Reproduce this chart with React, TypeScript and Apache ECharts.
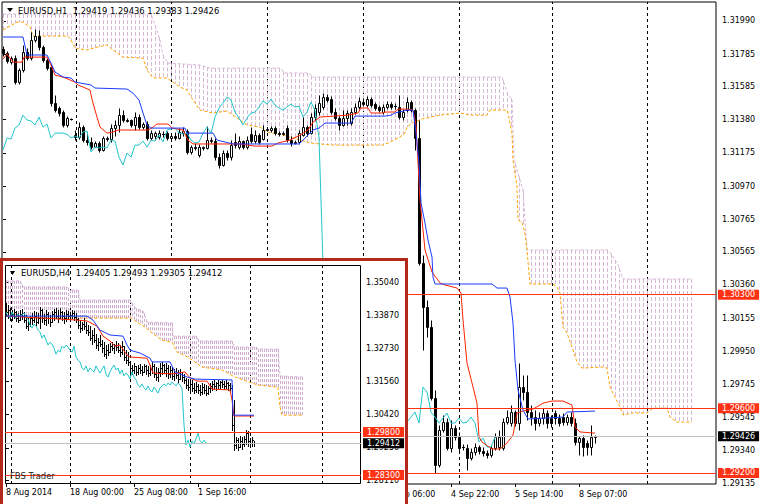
import React, { useEffect, useRef } from 'react';
import * as echarts from 'echarts';

// ---------------- EURUSD H1 (main chart) ----------------
const h1Open = [
  1.31816, 1.31791, 1.31735, 1.31760, 1.31612, 1.31686, 1.31797, 1.31760, 1.31871, 1.31896,
  1.31828, 1.31748, 1.31705, 1.31482, 1.31452, 1.31427, 1.31347, 1.31384, 1.31285, 1.31273,
  1.31334, 1.31254, 1.31242, 1.31211, 1.31236, 1.31193, 1.31267, 1.31260, 1.31328, 1.31347,
  1.31408, 1.31378, 1.31378, 1.31347, 1.31396, 1.31334, 1.31353, 1.31267, 1.31279, 1.31273,
  1.31291, 1.31297, 1.31267, 1.31279, 1.31267, 1.31297, 1.31310, 1.31180, 1.31211, 1.31162,
  1.31211, 1.31205, 1.31254, 1.31248, 1.31149, 1.31100, 1.31174, 1.31149, 1.31242, 1.31211,
  1.31248, 1.31211, 1.31291, 1.31248, 1.31285, 1.31260, 1.31316, 1.31316, 1.31328, 1.31297,
  1.31291, 1.31328, 1.31254, 1.31236, 1.31242, 1.31285, 1.31334, 1.31297, 1.31396, 1.31427,
  1.31458, 1.31520, 1.31507, 1.31427, 1.31390, 1.31347, 1.31390, 1.31359, 1.31427, 1.31458,
  1.31489, 1.31470, 1.31507, 1.31476, 1.31458, 1.31427, 1.31458, 1.31476, 1.31464, 1.31458,
  1.31396, 1.31439, 1.31489, 1.31439, 1.31267, 1.30495, 1.30224, 1.30100, 1.29662, 1.29249,
  1.29465, 1.29514, 1.29354, 1.29477, 1.29422, 1.29360, 1.29354, 1.29292, 1.29329, 1.29360,
  1.29335, 1.29323, 1.29311, 1.29354, 1.29360, 1.29354, 1.29514, 1.29508, 1.29576, 1.29508,
  1.29730, 1.29699, 1.29576, 1.29545, 1.29508, 1.29539, 1.29570, 1.29539, 1.29570, 1.29539,
  1.29545, 1.29514, 1.29545, 1.29508, 1.29391, 1.29415, 1.29385, 1.29360, 1.29419,
];
const h1High = [
  1.31834, 1.31803, 1.31773, 1.31779, 1.31698, 1.31840, 1.31822, 1.31921, 1.31939, 1.31933,
  1.31840, 1.31760, 1.31723, 1.31532, 1.31464, 1.31439, 1.31402, 1.31390, 1.31316, 1.31365,
  1.31347, 1.31304, 1.31273, 1.31248, 1.31248, 1.31279, 1.31279, 1.31353, 1.31378, 1.31452,
  1.31439, 1.31390, 1.31384, 1.31427, 1.31415, 1.31365, 1.31371, 1.31316, 1.31310, 1.31316,
  1.31310, 1.31310, 1.31291, 1.31304, 1.31328, 1.31334, 1.31322, 1.31223, 1.31236, 1.31230,
  1.31217, 1.31341, 1.31273, 1.31267, 1.31174, 1.31193, 1.31193, 1.31254, 1.31297, 1.31279,
  1.31254, 1.31279, 1.31334, 1.31316, 1.31297, 1.31347, 1.31334, 1.31341, 1.31341, 1.31310,
  1.31310, 1.31347, 1.31279, 1.31254, 1.31316, 1.31396, 1.31347, 1.31421, 1.31476, 1.31532,
  1.31544, 1.31538, 1.31526, 1.31452, 1.31402, 1.31439, 1.31439, 1.31452, 1.31482, 1.31520,
  1.31513, 1.31526, 1.31520, 1.31489, 1.31470, 1.31476, 1.31495, 1.31489, 1.31482, 1.31532,
  1.31445, 1.31520, 1.31501, 1.31452, 1.31378, 1.30545, 1.30267, 1.30144, 1.29712, 1.29496,
  1.29557, 1.29539, 1.29527, 1.29496, 1.29453, 1.29379, 1.29379, 1.29354, 1.29385, 1.29372,
  1.29360, 1.29342, 1.29372, 1.29446, 1.29465, 1.29539, 1.29588, 1.29619, 1.29588, 1.29878,
  1.29804, 1.29804, 1.29619, 1.29588, 1.29576, 1.29601, 1.29588, 1.29557, 1.29588, 1.29564,
  1.29570, 1.29564, 1.29576, 1.29539, 1.29428, 1.29434, 1.29403, 1.29496, 1.29436,
];
const h1Low = [
  1.31773, 1.31729, 1.31723, 1.31600, 1.31600, 1.31674, 1.31748, 1.31748, 1.31859, 1.31810,
  1.31735, 1.31686, 1.31464, 1.31427, 1.31402, 1.31334, 1.31334, 1.31378, 1.31254, 1.31260,
  1.31242, 1.31223, 1.31199, 1.31211, 1.31180, 1.31186, 1.31248, 1.31242, 1.31279, 1.31304,
  1.31365, 1.31365, 1.31334, 1.31316, 1.31322, 1.31322, 1.31254, 1.31254, 1.31260, 1.31260,
  1.31273, 1.31254, 1.31260, 1.31254, 1.31260, 1.31279, 1.31168, 1.31168, 1.31193, 1.31149,
  1.31193, 1.31199, 1.31236, 1.31131, 1.31081, 1.31094, 1.31131, 1.31131, 1.31205, 1.31199,
  1.31199, 1.31199, 1.31236, 1.31236, 1.31230, 1.31254, 1.31310, 1.31304, 1.31285, 1.31279,
  1.31285, 1.31242, 1.31217, 1.31230, 1.31230, 1.31279, 1.31279, 1.31291, 1.31378, 1.31408,
  1.31445, 1.31489, 1.31415, 1.31378, 1.31316, 1.31341, 1.31347, 1.31347, 1.31415, 1.31445,
  1.31464, 1.31458, 1.31458, 1.31439, 1.31427, 1.31415, 1.31445, 1.31445, 1.31445, 1.31384,
  1.31378, 1.31427, 1.31427, 1.31193, 1.30483, 1.29959, 1.30039, 1.29650, 1.29200, 1.29237,
  1.29453, 1.29342, 1.29329, 1.29403, 1.29329, 1.29342, 1.29218, 1.29280, 1.29311, 1.29317,
  1.29305, 1.29292, 1.29298, 1.29342, 1.29342, 1.29342, 1.29502, 1.29490, 1.29490, 1.29465,
  1.29650, 1.29527, 1.29496, 1.29465, 1.29490, 1.29502, 1.29477, 1.29483, 1.29502, 1.29490,
  1.29496, 1.29496, 1.29490, 1.29372, 1.29311, 1.29305, 1.29311, 1.29311, 1.29383,
];
const h1Close = [
  1.31791, 1.31742, 1.31760, 1.31612, 1.31686, 1.31797, 1.31760, 1.31871, 1.31896, 1.31828,
  1.31748, 1.31698, 1.31482, 1.31439, 1.31421, 1.31347, 1.31390, 1.31383, 1.31273, 1.31334,
  1.31254, 1.31242, 1.31211, 1.31236, 1.31193, 1.31267, 1.31260, 1.31328, 1.31347, 1.31408,
  1.31378, 1.31372, 1.31347, 1.31396, 1.31334, 1.31353, 1.31267, 1.31297, 1.31297, 1.31297,
  1.31290, 1.31267, 1.31279, 1.31267, 1.31304, 1.31310, 1.31180, 1.31211, 1.31205, 1.31211,
  1.31205, 1.31254, 1.31248, 1.31149, 1.31100, 1.31174, 1.31149, 1.31223, 1.31223, 1.31248,
  1.31211, 1.31254, 1.31248, 1.31285, 1.31242, 1.31316, 1.31322, 1.31328, 1.31297, 1.31291,
  1.31297, 1.31254, 1.31236, 1.31242, 1.31297, 1.31334, 1.31297, 1.31396, 1.31452, 1.31482,
  1.31520, 1.31501, 1.31427, 1.31390, 1.31347, 1.31390, 1.31421, 1.31427, 1.31458, 1.31495,
  1.31476, 1.31507, 1.31470, 1.31452, 1.31439, 1.31458, 1.31476, 1.31458, 1.31463, 1.31396,
  1.31427, 1.31489, 1.31439, 1.31267, 1.30495, 1.30224, 1.30100, 1.29662, 1.29249, 1.29465,
  1.29514, 1.29354, 1.29477, 1.29422, 1.29354, 1.29358, 1.29292, 1.29329, 1.29360, 1.29335,
  1.29323, 1.29311, 1.29354, 1.29422, 1.29422, 1.29514, 1.29545, 1.29576, 1.29508, 1.29730,
  1.29699, 1.29576, 1.29545, 1.29508, 1.29539, 1.29570, 1.29508, 1.29508, 1.29539, 1.29508,
  1.29514, 1.29545, 1.29508, 1.29391, 1.29415, 1.29360, 1.29360, 1.29422, 1.29426,
];
// Ichimoku lines, [bar index, price]
const h1Tenkan: number[][] = [
  [0, 1.31754], [1, 1.31785], [2.5, 1.31735], [4.75, 1.31735], [5.25, 1.31766], [11, 1.31766], [12, 1.31717],
  [13, 1.31655], [15, 1.31643], [18, 1.31612], [18.75, 1.31594], [21.75, 1.31563], [22.5, 1.31482], [23.5, 1.31396],
  [24.25, 1.31334], [26, 1.31297], [27.5, 1.31304], [28.75, 1.31316], [36.25, 1.31316], [37.5, 1.31334], [38.5, 1.31353],
  [41.25, 1.31353], [42.25, 1.31328], [45, 1.31316], [46.25, 1.31254], [47.5, 1.31230], [59.25, 1.31230], [63, 1.31217],
  [67.25, 1.31217], [68.75, 1.31236], [71.75, 1.31254], [74.25, 1.31285], [76.25, 1.31316], [77.5, 1.31365],
  [79.25, 1.31396], [83, 1.31402], [86.25, 1.31408], [88.75, 1.31421], [89.5, 1.31452], [91.25, 1.31452], [92, 1.31421],
  [94.75, 1.31421], [95.5, 1.31427], [98, 1.31427], [98.75, 1.31445], [101.25, 1.31445], [102.5, 1.31439],
  [103.25, 1.31347], [104.25, 1.30884], [105.5, 1.30576], [107.25, 1.30440], [109.25, 1.30372], [110.5, 1.30360],
  [113.5, 1.30341], [114.5, 1.30310], [115, 1.30144], [116, 1.29878], [117.25, 1.29755], [118.5, 1.29631],
  [119, 1.29422], [119.75, 1.29391], [122.25, 1.29348], [124.25, 1.29348], [126, 1.29385], [127.5, 1.29434],
  [128.5, 1.29570], [130, 1.29582], [132.5, 1.29594], [135, 1.29631], [137.25, 1.29644], [140, 1.29644],
  [142.25, 1.29619], [143, 1.29483], [144.25, 1.29453], [148, 1.29446],
];
const h1Kijun: number[][] = [
  [0, 1.31890], [5, 1.31890], [6, 1.31779], [11, 1.31779], [12, 1.31729], [13, 1.31674], [15, 1.31643], [17, 1.31637],
  [18, 1.31612], [22, 1.31594], [23, 1.31575], [31, 1.31569], [32.5, 1.31544], [34, 1.31501], [35, 1.31421],
  [36, 1.31347], [37, 1.31328], [45.5, 1.31328], [46, 1.31297], [52.5, 1.31297], [53.5, 1.31254], [57.5, 1.31230],
  [74, 1.31230], [75, 1.31254], [77.5, 1.31316], [79, 1.31328], [80.5, 1.31359], [87, 1.31359], [88, 1.31402],
  [95.5, 1.31402], [97, 1.31408], [98, 1.31421], [101, 1.31439], [102.5, 1.31439], [103.25, 1.31297], [104, 1.31112],
  [104.5, 1.30866], [105.5, 1.30742], [106.25, 1.30637], [107.25, 1.30532], [107.5, 1.30409], [108, 1.30366],
  [122.25, 1.30366], [123.5, 1.30341], [126, 1.30341], [126.75, 1.30286], [127.5, 1.30125], [128, 1.29897],
  [128.75, 1.29712], [130, 1.29588], [131.25, 1.29533], [140, 1.29545], [141, 1.29576], [148, 1.29582],
];
const h1SpanA: number[][] = [
  [0, 1.31933], [3.5, 1.31982], [5, 1.31982], [6.75, 1.31951], [7.5, 1.31896], [16, 1.31896], [16.75, 1.31884],
  [18, 1.31822], [21, 1.31810], [23.5, 1.31828], [26, 1.31840], [27.5, 1.31810], [30, 1.31766], [35, 1.31760],
  [36, 1.31686], [37.5, 1.31637], [41, 1.31637], [44.25, 1.31581], [46, 1.31563], [47.5, 1.31501], [49.25, 1.31439],
  [52.5, 1.31421], [56, 1.31433], [59.25, 1.31378], [61, 1.31347], [64.25, 1.31334], [66, 1.31304], [70, 1.31285],
  [74.25, 1.31254], [76.75, 1.31236], [82.5, 1.31223], [95, 1.31223], [96.75, 1.31242], [99.25, 1.31273],
  [100.5, 1.31297], [101, 1.31334], [102.25, 1.31359], [104.75, 1.31384], [109.25, 1.31408], [114.25, 1.31421],
  [116.75, 1.31408], [121, 1.31408], [121.75, 1.31439], [126, 1.31439], [126.25, 1.31421], [127.25, 1.31297],
  [127.5, 1.31131], [128.5, 1.30964], [128.75, 1.30761], [129.75, 1.30748], [130.5, 1.30680], [131, 1.30576],
  [131.75, 1.30366], [137.5, 1.30366], [138.5, 1.30347], [139.25, 1.30310], [140, 1.30100], [141, 1.30063],
  [142.5, 1.29959], [143.5, 1.29884], [144.75, 1.29847], [150, 1.29854], [151, 1.29847], [151.75, 1.29730],
  [153, 1.29668], [154.25, 1.29607], [155, 1.29558], [157.5, 1.29570], [161, 1.29570], [162.5, 1.29600],
  [166, 1.29600], [166.75, 1.29545], [168.5, 1.29514], [172.25, 1.29514],
];
const h1SpanB: number[][] = [
  [0, 1.32032], [37, 1.32032], [38, 1.31964], [39.25, 1.31871], [40, 1.31779], [41.25, 1.31729], [49.25, 1.31717],
  [51.75, 1.31698], [69.5, 1.31698], [70.25, 1.31668], [76.5, 1.31668], [77.25, 1.31643], [124.75, 1.31643],
  [126.25, 1.31532], [127.25, 1.31507], [127.75, 1.31131], [130, 1.30946], [131, 1.30576], [151.25, 1.30576],
  [152.25, 1.30545], [153.75, 1.30483], [155, 1.30397], [172.25, 1.30397],
];
const h1Levels = [1.303, 1.296, 1.292];
const h1Bid = 1.29426;
const h1PriceTicks = [1.3199, 1.31785, 1.31585, 1.3138, 1.31175, 1.3097, 1.30765, 1.30565, 1.3036, 1.30155, 1.2995, 1.29745, 1.29545, 1.2934, 1.29135];
const h1TimeIdx = [96, 112, 128, 144];
const h1TimeLabels = ['4 Sep 06:00', '4 Sep 22:00', '5 Sep 14:00', '8 Sep 07:00'];
const h1GridIdx = [18.375, 42.125, 66.125, 90.125, 114.125, 137.375, 161.125];
const h1Title = 'EURUSD,H1  1.29419 1.29436 1.29383 1.29426';

// ---------------- EURUSD H4 (inset) ----------------
const h4Open = [
  1.3420, 1.3399, 1.3406, 1.3385, 1.3392, 1.3399, 1.3378, 1.3371, 1.3392, 1.3385,
  1.3371, 1.3350, 1.3357, 1.3378, 1.3371, 1.3385, 1.3364, 1.3378, 1.3406, 1.3378,
  1.3371, 1.3392, 1.3378, 1.3364, 1.3392, 1.3399, 1.3385, 1.3378, 1.3399, 1.3385,
  1.3378, 1.3392, 1.3385, 1.3389, 1.3396, 1.3382, 1.3375, 1.3354, 1.3343, 1.3357,
  1.3350, 1.3336, 1.3329, 1.3308, 1.3319, 1.3301, 1.3284, 1.3294, 1.3287, 1.3273,
  1.3252, 1.3266, 1.3259, 1.3280, 1.3273, 1.3284, 1.3277, 1.3266, 1.3259, 1.3280,
  1.3242, 1.3231, 1.3225, 1.3204, 1.3197, 1.3211, 1.3190, 1.3204, 1.3197, 1.3190,
  1.3211, 1.3197, 1.3186, 1.3200, 1.3211, 1.3183, 1.3172, 1.3190, 1.3204, 1.3214,
  1.3197, 1.3204, 1.3183, 1.3197, 1.3176, 1.3186, 1.3179, 1.3165, 1.3190, 1.3172,
  1.3162, 1.3144, 1.3137, 1.3148, 1.3134, 1.3127, 1.3141, 1.3127, 1.3120, 1.3137,
  1.3127, 1.3116, 1.3134, 1.3141, 1.3148, 1.3141, 1.3151, 1.3144, 1.3155, 1.3148,
  1.3141, 1.3151, 1.3144, 1.3134, 1.3004, 1.2935, 1.2952, 1.2928, 1.2949, 1.2938,
  1.2956, 1.2976, 1.2949, 1.2942, 1.29405,
];
const h4High = [
  1.3431, 1.3424, 1.3413, 1.3406, 1.3410, 1.3403, 1.3396, 1.3406, 1.3410, 1.3399,
  1.3389, 1.3378, 1.3385, 1.3396, 1.3403, 1.3399, 1.3396, 1.3417, 1.3410, 1.3392,
  1.3406, 1.3399, 1.3389, 1.3403, 1.3410, 1.3413, 1.3406, 1.3413, 1.3403, 1.3399,
  1.3406, 1.3403, 1.3399, 1.3406, 1.3403, 1.3396, 1.3378, 1.3371, 1.3364, 1.3378,
  1.3364, 1.3354, 1.3350, 1.3336, 1.3343, 1.3322, 1.3308, 1.3319, 1.3301, 1.3294,
  1.3284, 1.3287, 1.3291, 1.3294, 1.3287, 1.3298, 1.3291, 1.3284, 1.3298, 1.3280,
  1.3266, 1.3259, 1.3225, 1.3214, 1.3221, 1.3211, 1.3214, 1.3218, 1.3211, 1.3218,
  1.3214, 1.3211, 1.3214, 1.3225, 1.3218, 1.3207, 1.3204, 1.3221, 1.3225, 1.3218,
  1.3221, 1.3214, 1.3211, 1.3207, 1.3200, 1.3204, 1.3197, 1.3200, 1.3190, 1.3183,
  1.3169, 1.3165, 1.3158, 1.3162, 1.3151, 1.3155, 1.3148, 1.3144, 1.3151, 1.3148,
  1.3144, 1.3141, 1.3151, 1.3158, 1.3162, 1.3155, 1.3162, 1.3158, 1.3162, 1.3158,
  1.3162, 1.3155, 1.3151, 1.3144, 1.3092, 1.2963, 1.2959, 1.2966, 1.2963, 1.2966,
  1.2987, 1.2983, 1.2959, 1.2963, 1.29493,
];
const h4Low = [
  1.3385, 1.3378, 1.3371, 1.3371, 1.3378, 1.3368, 1.3364, 1.3371, 1.3375, 1.3364,
  1.3343, 1.3336, 1.3350, 1.3357, 1.3364, 1.3354, 1.3361, 1.3343, 1.3364, 1.3357,
  1.3354, 1.3361, 1.3350, 1.3364, 1.3371, 1.3378, 1.3364, 1.3378, 1.3371, 1.3361,
  1.3368, 1.3375, 1.3371, 1.3378, 1.3371, 1.3364, 1.3343, 1.3329, 1.3336, 1.3340,
  1.3326, 1.3319, 1.3301, 1.3287, 1.3294, 1.3273, 1.3266, 1.3280, 1.3259, 1.3245,
  1.3238, 1.3249, 1.3259, 1.3266, 1.3256, 1.3266, 1.3259, 1.3245, 1.3252, 1.3231,
  1.3221, 1.3214, 1.3190, 1.3183, 1.3186, 1.3179, 1.3183, 1.3186, 1.3179, 1.3190,
  1.3183, 1.3176, 1.3179, 1.3186, 1.3172, 1.3162, 1.3158, 1.3176, 1.3183, 1.3186,
  1.3176, 1.3169, 1.3172, 1.3165, 1.3162, 1.3169, 1.3155, 1.3165, 1.3158, 1.3151,
  1.3134, 1.3127, 1.3120, 1.3123, 1.3116, 1.3120, 1.3116, 1.3109, 1.3113, 1.3116,
  1.3109, 1.3113, 1.3120, 1.3127, 1.3130, 1.3127, 1.3134, 1.3130, 1.3137, 1.3130,
  1.3134, 1.3127, 1.3123, 1.2987, 1.2917, 1.2924, 1.2917, 1.2928, 1.2921, 1.2931,
  1.2938, 1.2931, 1.2928, 1.2931, 1.29305,
];
const h4Close = [
  1.3399, 1.3406, 1.3385, 1.3392, 1.3399, 1.3378, 1.3371, 1.3392, 1.3385, 1.3371,
  1.3350, 1.3357, 1.3378, 1.3371, 1.3385, 1.3364, 1.3378, 1.3406, 1.3378, 1.3371,
  1.3392, 1.3378, 1.3364, 1.3392, 1.3399, 1.3385, 1.3378, 1.3399, 1.3385, 1.3378,
  1.3392, 1.3385, 1.3389, 1.3396, 1.3382, 1.3375, 1.3354, 1.3343, 1.3357, 1.3350,
  1.3336, 1.3329, 1.3308, 1.3319, 1.3301, 1.3284, 1.3294, 1.3287, 1.3273, 1.3252,
  1.3266, 1.3259, 1.3280, 1.3273, 1.3284, 1.3277, 1.3266, 1.3259, 1.3280, 1.3242,
  1.3231, 1.3225, 1.3204, 1.3197, 1.3211, 1.3190, 1.3204, 1.3197, 1.3190, 1.3211,
  1.3197, 1.3186, 1.3200, 1.3211, 1.3183, 1.3172, 1.3190, 1.3204, 1.3214, 1.3197,
  1.3204, 1.3183, 1.3197, 1.3176, 1.3186, 1.3179, 1.3165, 1.3190, 1.3172, 1.3162,
  1.3144, 1.3137, 1.3148, 1.3134, 1.3127, 1.3141, 1.3127, 1.3120, 1.3137, 1.3127,
  1.3116, 1.3134, 1.3141, 1.3148, 1.3141, 1.3151, 1.3144, 1.3155, 1.3148, 1.3141,
  1.3151, 1.3144, 1.3134, 1.3004, 1.2935, 1.2952, 1.2928, 1.2949, 1.2938, 1.2956,
  1.2976, 1.2949, 1.2942, 1.2952, 1.29412,
];
const h4Tenkan: number[][] = [
  [0, 1.3385], [18.5, 1.3378], [35.5, 1.3371], [40.5, 1.3368], [45.5, 1.3350], [48.5, 1.3315], [52, 1.3298],
  [54.5, 1.3280], [57, 1.3284], [60.5, 1.3249], [62, 1.3242], [70.5, 1.3238], [72, 1.3214], [73.5, 1.3186],
  [83, 1.3183], [89.5, 1.3190], [92, 1.3169], [95.5, 1.3158], [100.5, 1.3158], [103, 1.3130], [112, 1.3127],
  [113, 1.3092], [114, 1.3036], [124, 1.3036],
];
const h4Kijun: number[][] = [
  [0, 1.3385], [40.5, 1.3385], [43.5, 1.3371], [47, 1.3336], [52, 1.3319], [58.5, 1.3315], [60.5, 1.3284],
  [62, 1.3266], [67, 1.3256], [72, 1.3238], [73, 1.3225], [82, 1.3225], [84.5, 1.3190], [90.5, 1.3172],
  [94.5, 1.3165], [113, 1.3162], [113.5, 1.3039], [124, 1.3039],
];
const h4SpanA: number[][] = [
  [0, 1.3406], [7, 1.3385], [12, 1.3378], [63, 1.3378], [66, 1.3361], [69.5, 1.3347], [73, 1.3326], [78, 1.3301],
  [83, 1.3294], [85.5, 1.3259], [91, 1.3242], [98, 1.3207], [108, 1.3197], [114.5, 1.3172], [126, 1.3144],
  [136, 1.3137], [137, 1.3067], [138, 1.3039], [148.5, 1.3039],
];
const h4SpanB: number[][] = [
  [0, 1.3508], [7, 1.3508], [8.5, 1.3487], [30.5, 1.3487], [32, 1.3476], [36, 1.3476], [37, 1.3441], [62, 1.3441],
  [64.5, 1.3413], [68.5, 1.3403], [70.5, 1.3364], [83, 1.3361], [83.5, 1.3315], [95, 1.3315], [96.5, 1.3298],
  [113, 1.3298], [114, 1.3277], [125, 1.3277], [126, 1.3270], [136, 1.3270], [137, 1.3176], [148.5, 1.3172],
];
const h4Levels = [1.298, 1.283];
const h4Bid = 1.29412;
const h4PriceTicks = [1.3504, 1.3387, 1.3273, 1.3156, 1.3042, 1.2925, 1.2811];
const h4TimeIdx = [0, 32, 64, 96];
const h4TimeLabels = ['8 Aug 2014', '18 Aug 00:00', '25 Aug 08:00', '1 Sep 16:00'];
const h4GridIdx = [2.75, 32.25, 62.25, 92.25, 122.25, 158.25];
const h4Title = 'EURUSD,H4  1.29405 1.29493 1.29305 1.29412';

const CHIKOU_SHIFT = 24;

// ---------------- styling ----------------
const FONT = 'DejaVu Sans';
const RED = '#ff3314';
const BLUE = '#1a3cff';
const TENKAN = '#ff2200';
const CYAN = '#22c6cc';
const ORANGE = '#ffa200';
const THISTLE = '#d6b9d6';

function interpAt(poly: number[][], x: number): number | null {
  for (let k = 0; k < poly.length - 1; k++) {
    const x0 = poly[k][0], y0 = poly[k][1], x1 = poly[k + 1][0], y1 = poly[k + 1][1];
    if (x >= x0 && x <= x1) {
      if (x1 === x0) return y0;
      return y0 + ((y1 - y0) * (x - x0)) / (x1 - x0);
    }
  }
  return null;
}

function hatchSeries(ax: number, spanA: number[][], spanB: number[][], color: string, dash: number[], z: number) {
  return {
    type: 'custom',
    xAxisIndex: ax,
    yAxisIndex: ax,
    z,
    silent: true,
    clip: false,
    data: [[0, spanA[0][1]]],
    renderItem: (_p: any, api: any) => {
      const a = spanA.map((p) => api.coord(p));
      const b = spanB.map((p) => api.coord(p));
      const last = Math.min(spanA[spanA.length - 1][0], spanB[spanB.length - 1][0]);
      const children: any[] = [];
      for (let i = 0; i <= last; i++) {
        const px = api.coord([i, spanA[0][1]])[0];
        const ya = interpAt(a, px);
        const yb = interpAt(b, px);
        if (ya == null || yb == null) continue;
        const X = Math.round(px) + 0.5;
        children.push({
          type: 'line',
          shape: { x1: X, y1: Math.min(ya, yb), x2: X, y2: Math.max(ya, yb) },
          style: { stroke: color, lineWidth: 1, lineDash: dash },
        });
      }
      return { type: 'group', children };
    },
  };
}

const candleRender = (_p: any, api: any) => {
  const i = api.value(0), o = api.value(1), h = api.value(2), l = api.value(3), c = api.value(4);
  const pO = api.coord([i, o]), pC = api.coord([i, c]), pH = api.coord([i, h]), pL = api.coord([i, l]);
  const n = Math.round(pO[0]);
  const cx = n + 0.5;
  const yH = Math.round(pH[1]) + 0.5, yL = Math.round(pL[1]) + 0.5;
  const yT = Math.round(Math.min(pO[1], pC[1])) + 0.5;
  const yB = Math.round(Math.max(pO[1], pC[1])) + 0.5;
  const children: any[] = [
    { type: 'line', shape: { x1: cx, y1: yH, x2: cx, y2: yL }, style: { stroke: '#000', lineWidth: 1 } },
  ];
  if (yB - yT < 1) {
    children.push({ type: 'line', shape: { x1: n - 1, y1: yT, x2: n + 2, y2: yT }, style: { stroke: '#000', lineWidth: 1 } });
  } else {
    children.push({
      type: 'rect',
      shape: { x: n - 0.5, y: yT, width: 2, height: yB - yT },
      style: { fill: c > o ? '#fff' : '#000', stroke: '#000', lineWidth: 1 },
    });
  }
  return { type: 'group', children };
};

const ohlcRender = (_p: any, api: any) => {
  const i = api.value(0), o = api.value(1), h = api.value(2), l = api.value(3), c = api.value(4);
  const pO = api.coord([i, o]), pC = api.coord([i, c]), pH = api.coord([i, h]), pL = api.coord([i, l]);
  const n = Math.round(pO[0]);
  const X = n + 0.5;
  const st = { stroke: '#000', lineWidth: 1 };
  return {
    type: 'group',
    children: [
      { type: 'line', shape: { x1: X, y1: Math.round(pH[1]), x2: X, y2: Math.round(pL[1]) + 1 }, style: st },
      { type: 'line', shape: { x1: n - 1, y1: Math.round(pO[1]) + 0.5, x2: n, y2: Math.round(pO[1]) + 0.5 }, style: st },
      { type: 'line', shape: { x1: n + 1, y1: Math.round(pC[1]) + 0.5, x2: n + 2, y2: Math.round(pC[1]) + 0.5 }, style: st },
    ],
  };
};

function lineSeries(ax: number, data: number[][], color: string, z: number, dashed: boolean, extra: any = {}) {
  return {
    type: 'line',
    xAxisIndex: ax,
    yAxisIndex: ax,
    data,
    z,
    silent: true,
    symbol: 'none',
    showSymbol: false,
    clip: false,
    lineStyle: { color, width: 1, type: dashed ? [3, 2] : 'solid' },
    ...extra,
  };
}

function priceMarkLine(levels: number[], bid: number, z: number) {
  const lab = (bg: string, v: number) => ({
    show: true,
    position: 'end',
    distance: 2,
    formatter: v.toFixed(5),
    backgroundColor: bg,
    color: '#fff',
    padding: [1, 4, 1, 4],
    fontFamily: FONT,
    fontSize: 8,
  });
  return {
    silent: true,
    z,
    precision: 6,
    symbol: ['none', 'none'],
    animation: false,
    data: [
      { yAxis: bid, lineStyle: { color: '#c0c0c0', width: 1, type: 'solid' }, label: lab('#000', bid) },
      ...levels.map((v) => ({ yAxis: v, lineStyle: { color: RED, width: 1, type: 'solid' }, label: lab(RED, v) })),
    ],
  };
}

function gridMarkLine(idx: number[], z: number) {
  return {
    silent: true,
    z,
    precision: 6,
    symbol: ['none', 'none'],
    animation: false,
    label: { show: false },
    lineStyle: { color: '#000', width: 1, type: [3, 3] },
    data: idx.map((v) => ({ xAxis: v })),
  };
}

const axisText = { fontFamily: FONT, fontSize: 8, color: '#000' };

function buildOption(): any {
  const h1Candles = h1Open.map((o, i) => [i, o, h1High[i], h1Low[i], h1Close[i]]);
  const h4Bars = h4Open.map((o, i) => [i, o, h4High[i], h4Low[i], h4Close[i]]);
  const h1Chikou = h1Close.slice(CHIKOU_SHIFT).map((c, k) => [k, c]);
  const h4Chikou = h4Close.slice(CHIKOU_SHIFT).map((c, k) => [k, c]);

  return {
    animation: false,
    backgroundColor: '#fff',
    grid: [
      { left: 2, top: 2, width: 714, height: 482, show: true, borderColor: '#000', borderWidth: 1, backgroundColor: '#fff', outerBoundsMode: 'none' },
      { left: 5, top: 265, width: 356, height: 219, show: false, outerBoundsMode: 'none' },
    ],
    xAxis: [
      {
        type: 'value', gridIndex: 0, min: -0.25, max: 178.25,
        axisLine: { show: false }, splitLine: { show: false },
        axisTick: { show: true, customValues: h1TimeIdx, length: 3, lineStyle: { color: '#000' } },
        axisLabel: {
          customValues: h1TimeIdx, align: 'left', margin: 6, ...axisText,
          formatter: (v: number) => h1TimeLabels[h1TimeIdx.indexOf(v)] ?? '',
        },
      },
      {
        type: 'value', gridIndex: 1, min: -0.5, max: 177.5, z: 60,
        axisLine: { show: false }, splitLine: { show: false },
        axisTick: { show: true, customValues: h4TimeIdx, length: 3, lineStyle: { color: '#000' } },
        axisLabel: {
          customValues: h4TimeIdx, align: 'left', margin: 4, ...axisText,
          formatter: (v: number) => h4TimeLabels[h4TimeIdx.indexOf(v)] ?? '',
        },
      },
    ],
    yAxis: [
      {
        type: 'value', gridIndex: 0, position: 'right', min: 1.29132, max: 1.32106, scale: true,
        axisLine: { show: false }, splitLine: { show: false },
        axisTick: { show: true, customValues: h1PriceTicks, length: 3, lineStyle: { color: '#000' } },
        axisLabel: { customValues: h1PriceTicks, margin: 6, ...axisText, formatter: (v: number) => v.toFixed(5) },
      },
      {
        type: 'value', gridIndex: 1, position: 'right', min: 1.27986, max: 1.35634, scale: true, z: 60,
        axisLine: { show: false }, splitLine: { show: false },
        axisTick: { show: true, customValues: h4PriceTicks, length: 3, lineStyle: { color: '#000' } },
        axisLabel: { customValues: h4PriceTicks, margin: 5, ...axisText, formatter: (v: number) => v.toFixed(5) },
      },
    ],
    series: [
      // ----- main H1 -----
      hatchSeries(0, h1SpanA, h1SpanB, THISTLE, [4, 2], 1),
      lineSeries(0, h1SpanB, THISTLE, 2, true, { markLine: gridMarkLine(h1GridIdx, 1) }),
      lineSeries(0, h1SpanA, ORANGE, 2, true),
      { type: 'custom', xAxisIndex: 0, yAxisIndex: 0, z: 3, silent: true, data: h1Candles, renderItem: candleRender },
      lineSeries(0, h1Chikou, CYAN, 4, false),
      lineSeries(0, h1Tenkan, TENKAN, 4, false),
      lineSeries(0, h1Kijun, BLUE, 4, false, { markLine: priceMarkLine(h1Levels, h1Bid, 5) }),
      // ----- inset H4 -----
      hatchSeries(1, h4SpanA, h4SpanB, '#cfaacf', [3, 2], 61),
      lineSeries(1, h4SpanB, THISTLE, 62, true, { markLine: gridMarkLine(h4GridIdx, 61) }),
      lineSeries(1, h4SpanA, ORANGE, 62, true),
      { type: 'custom', xAxisIndex: 1, yAxisIndex: 1, z: 63, silent: true, data: h4Bars, renderItem: ohlcRender },
      lineSeries(1, h4Chikou, CYAN, 64, false),
      lineSeries(1, h4Tenkan, TENKAN, 64, false),
      lineSeries(1, h4Kijun, BLUE, 64, false, { markLine: priceMarkLine(h4Levels, h4Bid, 66) }),
    ],
    graphic: [
      { type: 'polygon', z: 10, silent: true, shape: { points: [[7, 8], [13, 8], [10, 12]] }, style: { fill: '#000' } },
      { type: 'text', z: 10, silent: true, x: 18, y: 10.5, style: { text: h1Title, fill: '#000', font: `8.4px "${FONT}"`, align: 'left', verticalAlign: 'middle' } },
      { type: 'rect', z: 50, silent: true, shape: { x: 1.5, y: 259.5, width: 405, height: 260 }, style: { fill: '#fff', stroke: '#b3281b', lineWidth: 3 } },
      { type: 'rect', z: 59, silent: true, shape: { x: 5.5, y: 265.5, width: 355, height: 218 }, style: { fill: 'none', stroke: '#000', lineWidth: 1 } },
      { type: 'polygon', z: 70, silent: true, shape: { points: [[10, 271], [15, 271], [12.5, 275]] }, style: { fill: '#000' } },
      { type: 'text', z: 70, silent: true, x: 21, y: 273, style: { text: h4Title, fill: '#000', font: `8.4px "${FONT}"`, align: 'left', verticalAlign: 'middle' } },
      { type: 'text', z: 70, silent: true, x: 10, y: 475.5, style: { text: 'FBS Trader', fill: '#222', font: `8.4px "${FONT}"`, align: 'left', verticalAlign: 'middle' } },
    ],
  };
}

export default function App() {
  const ref = useRef<HTMLDivElement>(null);
  useEffect(() => {
    document.body.style.margin = '0';
    const chart = echarts.init(ref.current as HTMLDivElement, null, { renderer: 'svg' });
    chart.setOption(buildOption());
    return () => chart.dispose();
  }, []);
  return <div ref={ref} style={{ width: 760, height: 504 }} />;
}
